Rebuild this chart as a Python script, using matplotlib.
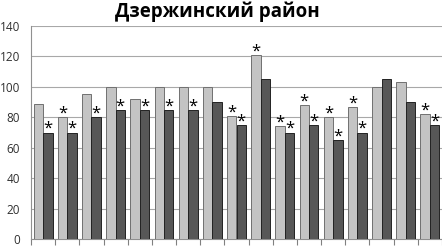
import numpy as np
import matplotlib
matplotlib.use("Agg")
import matplotlib.pyplot as plt

plt.rcParams['font.family'] = ['Open Sans', 'DejaVu Sans']

# values, 17 groups of two bars
light = [89, 80, 95, 100, 92, 100, 100, 100, 81, 121, 74, 88, 80, 87, 100, 103, 82]
dark = [70, 70, 80, 85, 85, 85, 85, 90, 75, 105, 70, 75, 65, 70, 105, 90, 75]
light_star = [0, 1, 0, 0, 0, 0, 0, 0, 1, 1, 1, 1, 1, 1, 0, 0, 1]
dark_star = [1, 1, 1, 1, 1, 1, 1, 0, 1, 0, 1, 1, 1, 1, 0, 0, 1]
yticks = [0, 20, 40, 60, 80, 100, 120, 140]
title = "Дзержинский район"

fig = plt.figure(figsize=(4.42, 2.46), dpi=100)
ax = fig.add_axes([31 / 442, 7 / 246, 411 / 442, 213 / 246])

x = np.arange(len(light))
w = 0.39
ax.bar(x - w / 2, light, w, color="#c4c4c4", edgecolor="#707070", linewidth=0.7, zorder=3)
ax.bar(x + w / 2, dark, w, color="#575757", edgecolor="#222222", linewidth=0.7, zorder=3)

# stars over significant bars
for i in range(len(x)):
    if light_star[i]:
        ax.text(x[i] - w / 2, light[i] - 3, "*", ha="center", va="bottom", fontsize=12, color="black", zorder=4)
    if dark_star[i]:
        ax.text(x[i] + w / 2, dark[i] - 3, "*", ha="center", va="bottom", fontsize=12, color="black", zorder=4)

ax.set_xlim(-0.5, len(light) - 0.5)
ax.set_ylim(0, 140)
ax.set_yticks(yticks)
ax.set_xticks(np.arange(-0.5, len(light), 1.0))
ax.set_xticklabels([])
ax.tick_params(axis="x", length=4, color="#808080", direction="out")
ax.tick_params(axis="y", length=0, labelsize=8.5, labelcolor="#303030", pad=8)
ax.yaxis.grid(True, color="#a8a8a8", linewidth=0.8, zorder=0)
for s in ["top", "right"]:
    ax.spines[s].set_visible(False)
ax.spines["left"].set_color("#909090")
ax.spines["bottom"].set_color("#909090")

fig.text(217 / 442, 1 - 12 / 246, title, ha="center", va="center", fontsize=13.5, fontweight="bold")

fig.savefig("out.png", dpi=100)
